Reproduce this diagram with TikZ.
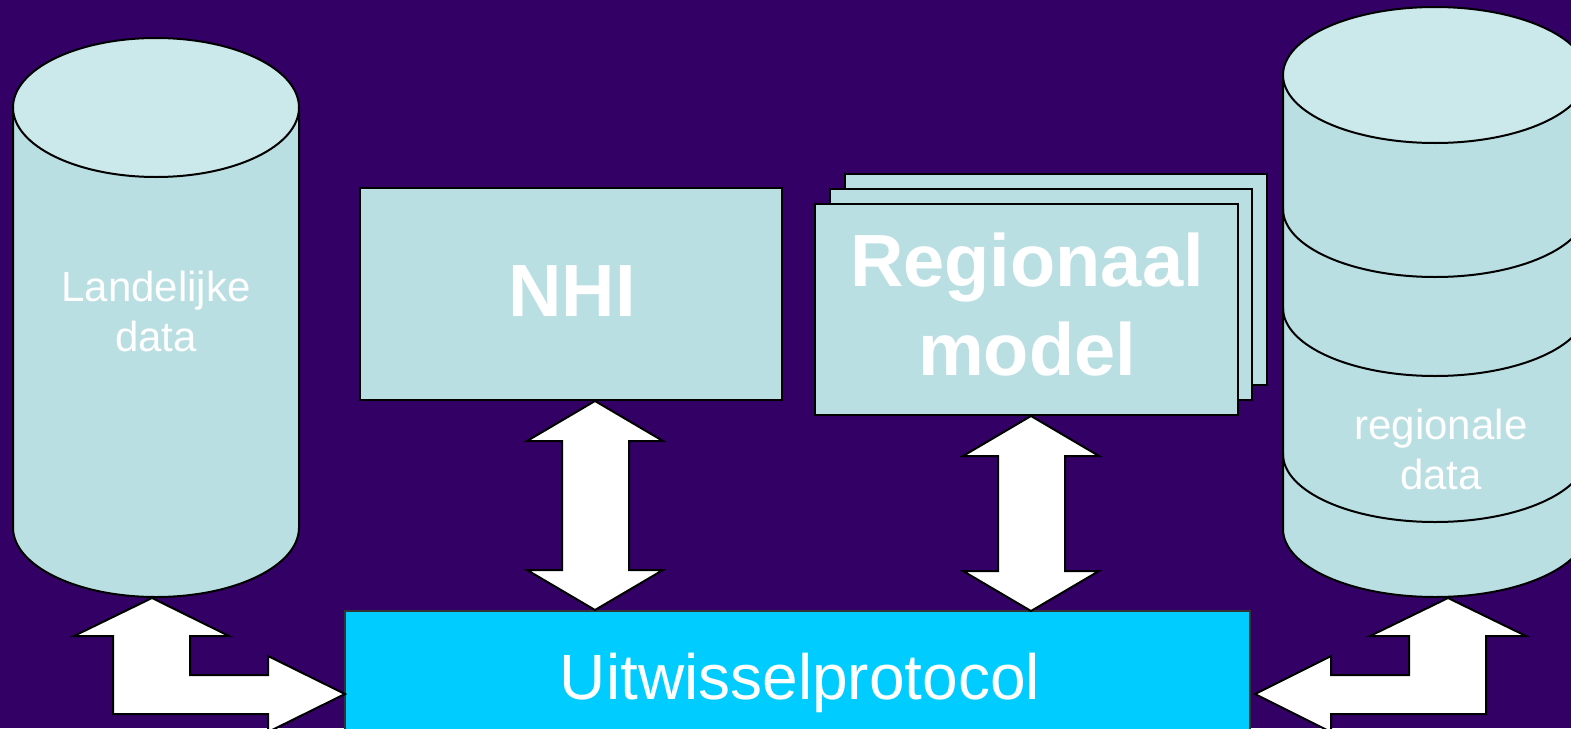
\documentclass[tikz,border=0pt]{standalone}
\usepackage{fontspec}
\setmainfont{Liberation Sans}
\definecolor{bgc}{HTML}{330066}
\definecolor{cylbody}{HTML}{BADFE3}
\definecolor{cyltop}{HTML}{CBE8EA}
\definecolor{protc}{HTML}{00CCFF}
\newcommand\blockvarrow[3]{%
  \draw[blockarrow] (#1,#2) -- (#1+68,#2+40) -- (#1+34,#2+40) -- (#1+34,#3-40)
    -- (#1+68,#3-40) -- (#1,#3) -- (#1-68,#3-40) -- (#1-33,#3-40)
    -- (#1-33,#2+40) -- (#1-68,#2+40) -- cycle;}
\begin{document}
\begin{tikzpicture}[x=1pt,y=-1pt,
  outline/.style={draw=black,line width=2pt,line join=miter},
  bodyfill/.style={outline,fill=cylbody},
  topfill/.style={outline,fill=cyltop},
  modelbox/.style={outline,fill=cylbody,inner sep=0pt,minimum width=422pt,minimum height=211pt},
  blockarrow/.style={draw=black,line width=2pt,fill=white,line join=miter},
  lbl/.style={text=white,inner sep=0pt,align=center},
  smalltxt/.style={lbl,font=\fontsize{42}{50}\selectfont},
  bigtxt/.style={lbl,font=\bfseries\fontsize{74}{89}\selectfont},
  prottxt/.style={lbl,font=\fontsize{64}{76}\selectfont}
]
\useasboundingbox (0,0) rectangle (1571,728);
\fill[bgc] (0,0) rectangle (1571,728);
\begin{scope}
\clip (0,0) rectangle (1571,728);

% left cylinder
\path[bodyfill] (13,107.5) -- (13,527.5)
  arc[start angle=180,end angle=0,x radius=143,y radius=69.5] -- (299,107.5) -- cycle;
\path[topfill] (156,107.5) ellipse[x radius=143,y radius=69.5];
\node[smalltxt] (land) at (156,311) {Landelijke\\data};

% right cylinder
\path[bodyfill] (1283,75) -- (1283,529)
  arc[start angle=180,end angle=0,x radius=152,y radius=68] -- (1587,75) -- cycle;
\draw[outline] (1283,209) arc[start angle=180,end angle=0,x radius=152,y radius=68];
\draw[outline] (1283,308) arc[start angle=180,end angle=0,x radius=152,y radius=68];
\draw[outline] (1283,454) arc[start angle=180,end angle=0,x radius=152,y radius=68];
\path[topfill] (1435,75) ellipse[x radius=152,y radius=68];
\node[smalltxt] (regdata) at (1441,449) {regionale\\data};

% NHI
\node[modelbox,minimum width=422pt,minimum height=212pt] (nhi) at (571,294) {};
\node[bigtxt,anchor=base] (nhitxt) at (572,316) {NHI};

% Regionaal model stack
\node[modelbox] (reg3) at (1056,279.5) {};
\node[modelbox] (reg2) at (1041,294.5) {};
\node[modelbox,minimum width=423pt] (reg) at (1026.5,309.5) {};
\node[bigtxt] (regtxt) at (1027,305) {Regionaal\\model};

% Uitwisselprotocol
\draw[line width=1.5pt,draw=black!80,fill=protc] (345,611) rectangle (1250,740);
\node[prottxt,anchor=base] (prot) at (800,699) {Uitwisselprotocol};

% vertical double arrows
\blockvarrow{595}{401}{610}
\blockvarrow{1031}{416}{611}

% bent arrows
\draw[blockarrow] (152,598) -- (229,636) -- (190,636) -- (190,675) -- (268,675)
  -- (268,656) -- (345,694) -- (268,732) -- (268,714) -- (113,714) -- (113,636)
  -- (74,636) -- cycle;
\draw[blockarrow] (1448,598) -- (1526,636) -- (1486,636) -- (1486,714) -- (1331,714)
  -- (1331,732) -- (1255,694) -- (1331,656) -- (1331,675) -- (1409,675) -- (1409,636)
  -- (1370,636) -- cycle;
\end{scope}
\end{tikzpicture}
\end{document}
